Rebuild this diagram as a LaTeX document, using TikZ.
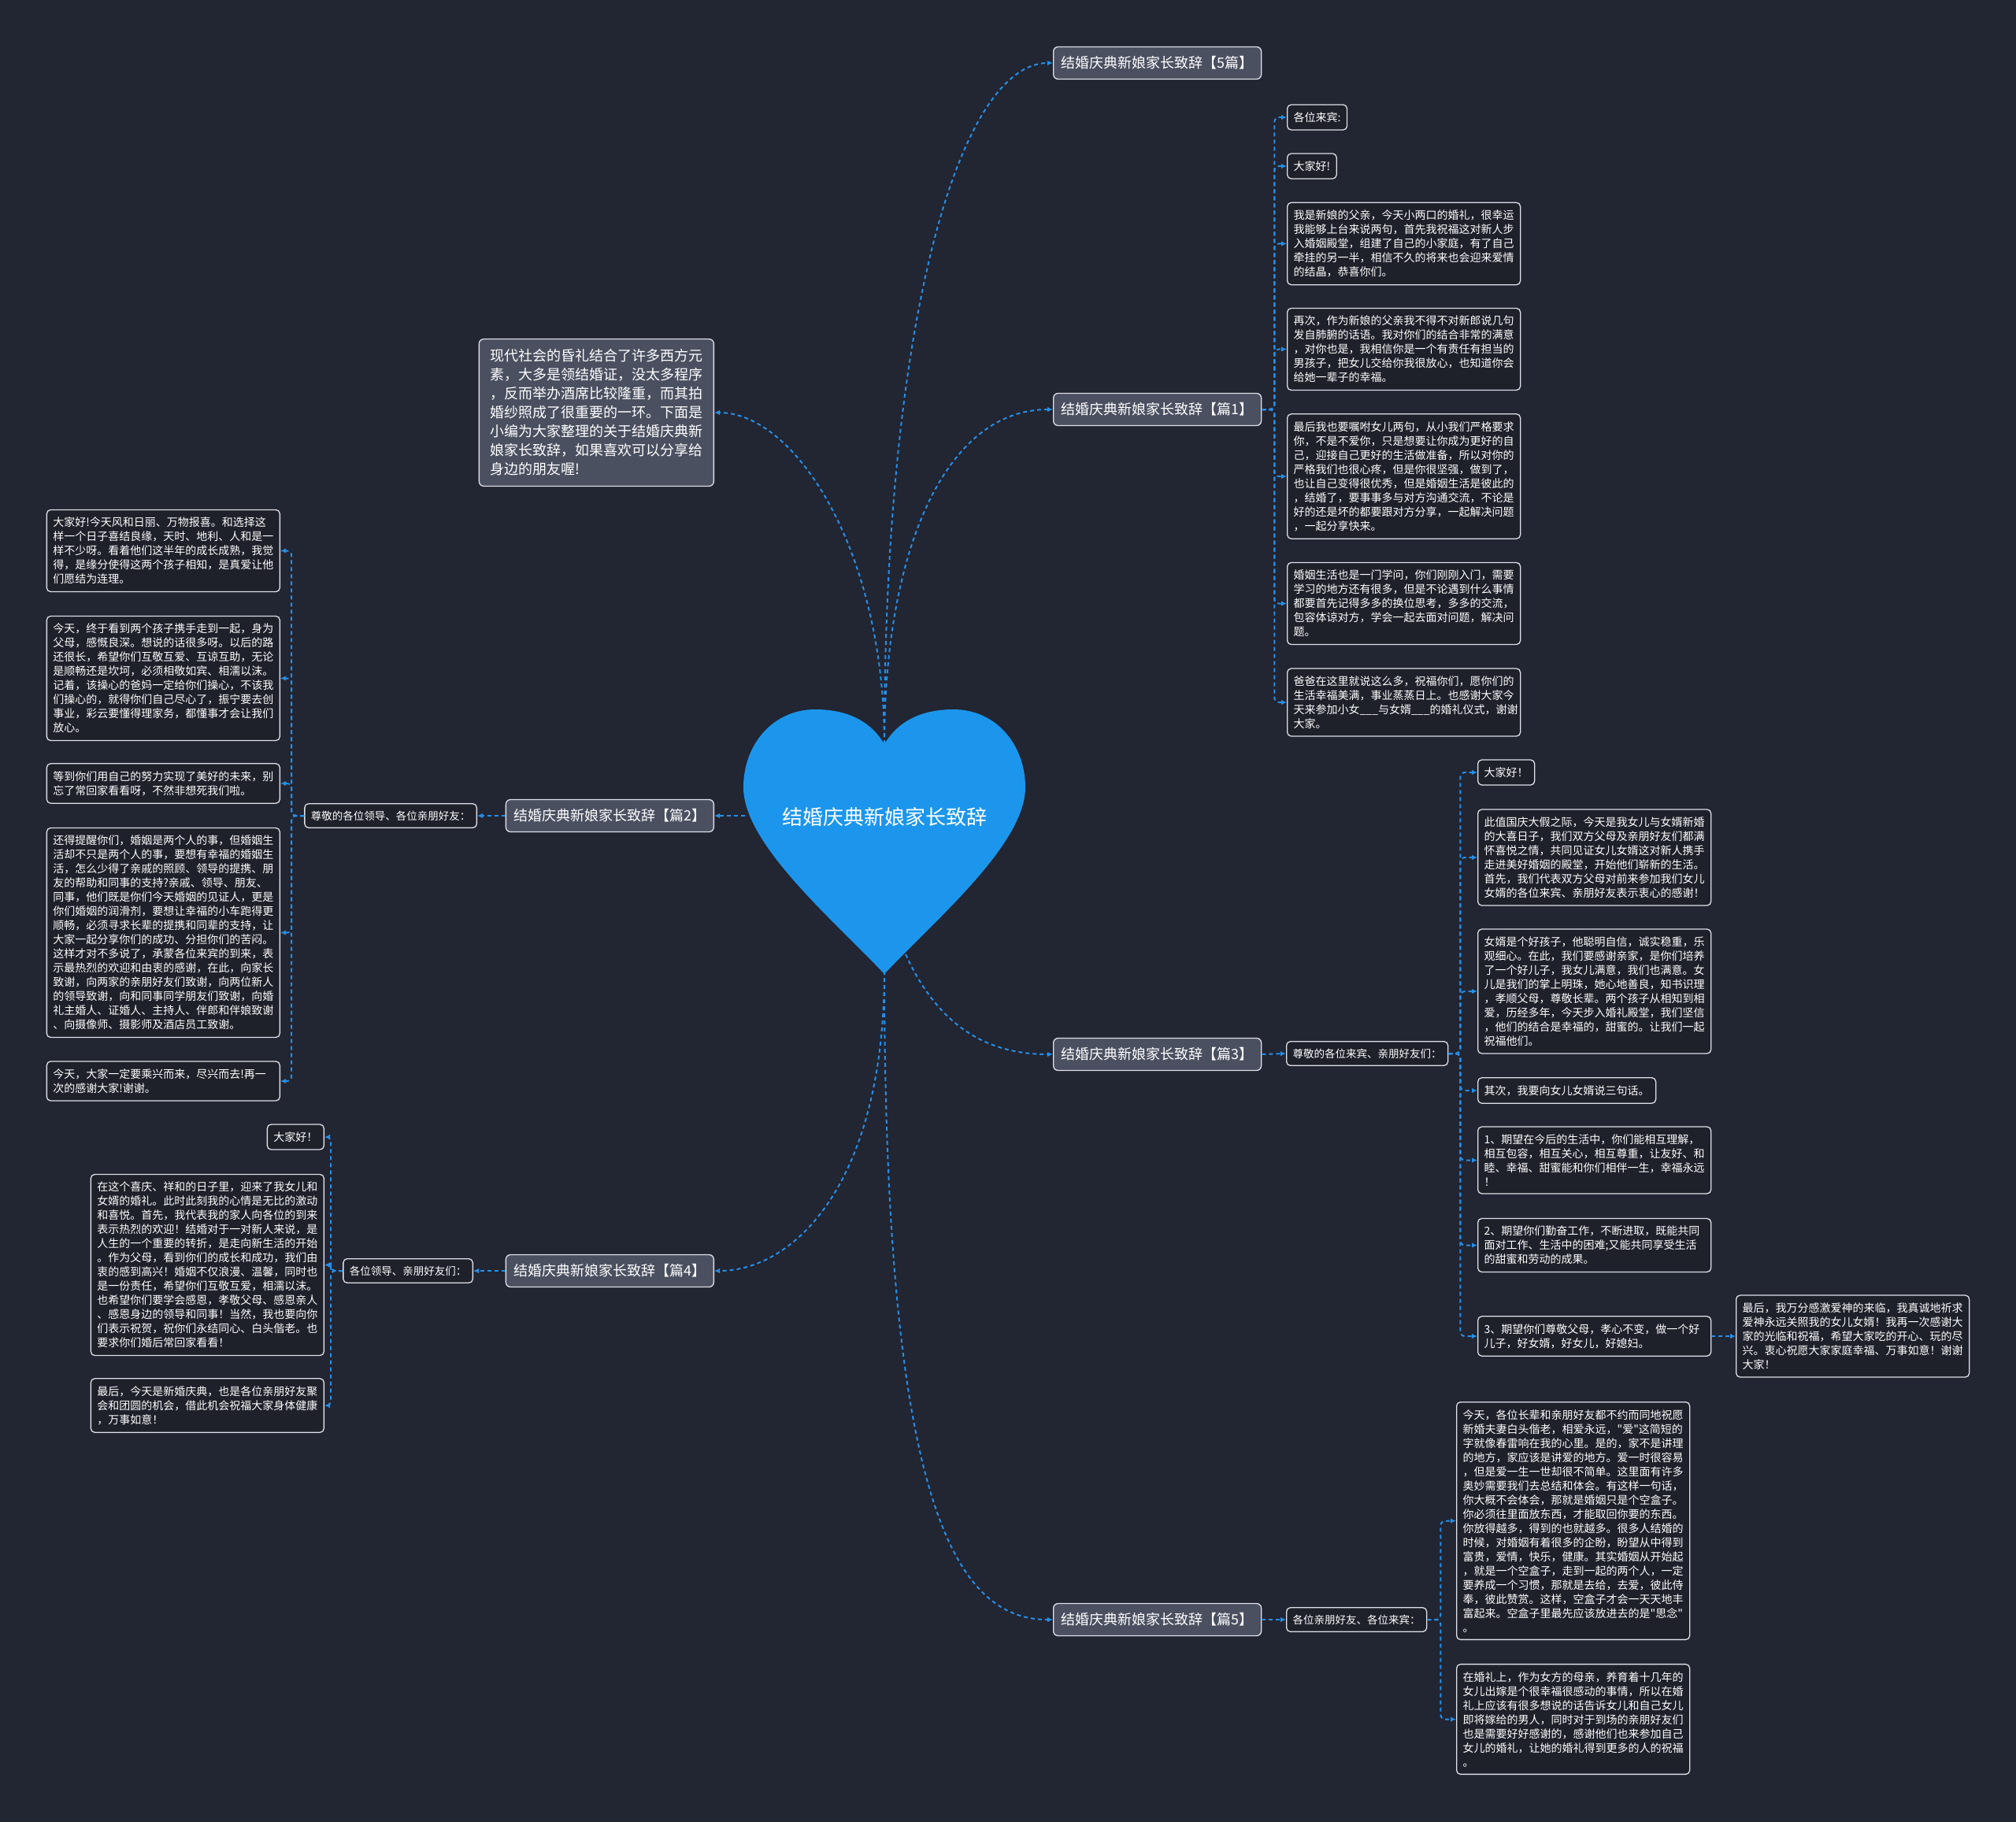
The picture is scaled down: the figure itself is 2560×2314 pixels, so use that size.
\documentclass[tikz,border=0pt]{standalone}
\usepackage{fontspec}
\setmainfont{Noto Sans CJK SC}
\newfontfamily\qf{Noto Sans CJK SC}
\usetikzlibrary{arrows.meta}
\definecolor{bgc}{RGB}{34,37,50}
\definecolor{leaffill}{RGB}{30,32,42}
\definecolor{branchfill}{RGB}{74,80,96}
\definecolor{boxline}{RGB}{222,225,232}
\definecolor{linkblue}{RGB}{38,143,230}
\definecolor{heartblue}{RGB}{27,150,236}
\newcommand{\dq}{{\qf "}}
\tikzset{
  leaf/.style={draw=boxline, fill=leaffill, rounded corners=5pt, line width=1.3pt, text=white,
    font=\fontsize{14}{18}\selectfont, align=left, inner xsep=8pt, inner ysep=9.5pt},
  wide/.style={leaf, text width=280pt},
  lvltwo/.style={leaf, font=\fontsize{13.5}{17}\selectfont, inner xsep=8pt, inner ysep=9pt},
  branch/.style={draw=boxline, fill=branchfill, rounded corners=6pt, line width=1.3pt, text=white,
    font=\fontsize{18}{24}\selectfont, inner xsep=10pt, inner ysep=4pt, minimum height=41pt},
  intro/.style={branch, align=left, inner xsep=14pt, inner ysep=13pt},
  conn/.style={draw=linkblue, line width=2pt, dash pattern=on 5pt off 4pt,
    -{Latex[length=7pt,width=6.5pt]}, rounded corners=8pt},
  tconn/.style={conn, rounded corners=6pt}
}
\begin{document}
\begin{tikzpicture}[x=1pt,y=-1pt]
\fill[bgc] (0,0) rectangle (2560,2314);
\useasboundingbox (0,0) rectangle (2560,2314);

% heart
\fill[heartblue] (1123,945) .. controls (1105,915) and (1075,901) .. (1035,901)
  .. controls (982,901) and (944,945) .. (944,1000)
  .. controls (944,1072) and (1058,1168) .. (1123,1237)
  .. controls (1188,1168) and (1302,1072) .. (1302,1000)
  .. controls (1302,945) and (1264,901) .. (1211,901)
  .. controls (1171,901) and (1141,915) .. (1123,945) -- cycle;
\node[text=white, font=\fontsize{26}{30}\selectfont] (heart) at (1123,1038) {结婚庆典新娘家长致辞};
\coordinate (htop) at (1123,945);
\coordinate (hbot) at (1123,1233);
\coordinate (hleft) at (946,1036);
\coordinate (hbr) at (1150,1212);

% branches
\node[branch, anchor=west] (p5) at (1337,80) {结婚庆典新娘家长致辞【5篇】};
\node[branch, anchor=west] (p1) at (1337,520) {结婚庆典新娘家长致辞【篇1】};
\node[branch, anchor=east] (p2) at (907,1036) {结婚庆典新娘家长致辞【篇2】};
\node[branch, anchor=west] (p3) at (1337,1339) {结婚庆典新娘家长致辞【篇3】};
\node[branch, anchor=east] (p4) at (907,1614) {结婚庆典新娘家长致辞【篇4】};
\node[branch, anchor=west] (p6) at (1337,2057) {结婚庆典新娘家长致辞【篇5】};
\node[intro, anchor=east] (intro) at (907,524) {现代社会的昏礼结合了许多西方元\\素，大多是领结婚证，没太多程序\\，反而举办酒席比较隆重，而其拍\\婚纱照成了很重要的一环。下面是\\小编为大家整理的关于结婚庆典新\\娘家长致辞，如果喜欢可以分享给\\身边的朋友喔!};

\draw[conn] (htop) .. controls (1123,400) and (1220,80) .. (p5.west);
\draw[conn] (htop) .. controls (1123,700) and (1200,520) .. (p1.west);
\draw[conn] (htop) .. controls (1123,700) and (1010,524) .. (intro.east);
\draw[conn] (hleft) -- (p2.east);
\draw[conn] (hbr) .. controls (1190,1300) and (1250,1339) .. (p3.west);
\draw[conn] (hbot) .. controls (1123,1500) and (1010,1614) .. (p4.east);
\draw[conn] (hbot) .. controls (1123,1900) and (1210,2057) .. (p6.west);

% pian 1 leaves
\node[leaf, anchor=west] (l1a) at (1634,149) {各位来宾:};
\node[leaf, anchor=west] (l1b) at (1634,211) {大家好!};
\node[wide, anchor=west] (l1c) at (1634,309.5) {我是新娘的父亲，今天小两口的婚礼，很幸运\\我能够上台来说两句，首先我祝福这对新人步\\入婚姻殿堂，组建了自己的小家庭，有了自己\\牵挂的另一半，相信不久的将来也会迎来爱情\\的结晶，恭喜你们。};
\node[wide, anchor=west] (l1d) at (1634,443.5) {再次，作为新娘的父亲我不得不对新郎说几句\\发自肺腑的话语。我对你们的结合非常的满意\\，对你也是，我相信你是一个有责任有担当的\\男孩子，把女儿交给你我很放心，也知道你会\\给她一辈子的幸福。};
\node[wide, anchor=west] (l1e) at (1634,605) {最后我也要嘱咐女儿两句，从小我们严格要求\\你，不是不爱你，只是想要让你成为更好的自\\己，迎接自己更好的生活做准备，所以对你的\\严格我们也很心疼，但是你很坚强，做到了，\\也让自己变得很优秀，但是婚姻生活是彼此的\\，结婚了，要事事多与对方沟通交流，不论是\\好的还是坏的都要跟对方分享，一起解决问题\\，一起分享快来。};
\node[wide, anchor=west] (l1f) at (1634,766.5) {婚姻生活也是一门学问，你们刚刚入门，需要\\学习的地方还有很多，但是不论遇到什么事情\\都要首先记得多多的换位思考，多多的交流，\\包容体谅对方，学会一起去面对问题，解决问\\题。};
\node[wide, anchor=west] (l1g) at (1634,892) {爸爸在这里就说这么多，祝福你们，愿你们的\\生活幸福美满，事业蒸蒸日上。也感谢大家今\\天来参加小女\_\_\_与女婿\_\_\_的婚礼仪式，谢谢\\大家。};
\foreach \n in {l1a,l1b,l1c,l1d,l1e,l1f,l1g}
  \draw[tconn] (p1.east) -- ++(16,0) |- (\n.west);

% pian 2
\node[lvltwo, anchor=east] (s2) at (606,1036) {尊敬的各位领导、各位亲朋好友：};
\draw[conn] (p2.west) -- (s2.east);
\node[wide, anchor=east] (l2a) at (356,699.5) {大家好!今天风和日丽、万物报喜。和选择这\\样一个日子喜结良缘，天时、地利、人和是一\\样不少呀。看着他们这半年的成长成熟，我觉\\得，是缘分使得这两个孩子相知，是真爱让他\\们愿结为连理。};
\node[wide, anchor=east] (l2b) at (356,861.5) {今天，终于看到两个孩子携手走到一起，身为\\父母，感慨良深。想说的话很多呀。以后的路\\还很长，希望你们互敬互爱、互谅互助，无论\\是顺畅还是坎坷，必须相敬如宾、相濡以沫。\\记着，该操心的爸妈一定给你们操心，不该我\\们操心的，就得你们自己尽心了，振宁要去创\\事业，彩云要懂得理家务，都懂事才会让我们\\放心。};
\node[wide, anchor=east] (l2c) at (356,995) {等到你们用自己的努力实现了美好的未来，别\\忘了常回家看看呀，不然非想死我们啦。};
\node[wide, anchor=east] (l2d) at (356,1184.5) {还得提醒你们，婚姻是两个人的事，但婚姻生\\活却不只是两个人的事，要想有幸福的婚姻生\\活，怎么少得了亲戚的照顾、领导的提携、朋\\友的帮助和同事的支持?亲戚、领导、朋友、\\同事，他们既是你们今天婚姻的见证人，更是\\你们婚姻的润滑剂，要想让幸福的小车跑得更\\顺畅，必须寻求长辈的提携和同辈的支持，让\\大家一起分享你们的成功、分担你们的苦闷。\\这样才对不多说了，承蒙各位来宾的到来，表\\示最热烈的欢迎和由衷的感谢，在此，向家长\\致谢，向两家的亲朋好友们致谢，向两位新人\\的领导致谢，向和同事同学朋友们致谢，向婚\\礼主婚人、证婚人、主持人、伴郎和伴娘致谢\\、向摄像师、摄影师及酒店员工致谢。};
\node[wide, anchor=east] (l2e) at (356,1373) {今天，大家一定要乘兴而来，尽兴而去!再一\\次的感谢大家!谢谢。};
\foreach \n in {l2a,l2b,l2c,l2d,l2e}
  \draw[tconn] (s2.west) -- ++(-16,0) |- (\n.east);

% pian 3
\node[lvltwo, anchor=west] (s3) at (1633,1338) {尊敬的各位来宾、亲朋好友们：};
\draw[conn] (p3.east) -- (s3.west);
\node[leaf, anchor=west] (l3a) at (1876,981) {大家好！};
\node[wide, anchor=west] (l3b) at (1876,1089) {此值国庆大假之际，今天是我女儿与女婿新婚\\的大喜日子，我们双方父母及亲朋好友们都满\\怀喜悦之情，共同见证女儿女婿这对新人携手\\走进美好婚姻的殿堂，开始他们崭新的生活。\\首先，我们代表双方父母对前来参加我们女儿\\女婿的各位来宾、亲朋好友表示衷心的感谢！};
\node[wide, anchor=west] (l3c) at (1876,1259) {女婿是个好孩子，他聪明自信，诚实稳重，乐\\观细心。在此，我们要感谢亲家，是你们培养\\了一个好儿子，我女儿满意，我们也满意。女\\儿是我们的掌上明珠，她心地善良，知书识理\\，孝顺父母，尊敬长辈。两个孩子从相知到相\\爱，历经多年，今天步入婚礼殿堂，我们坚信\\，他们的结合是幸福的，甜蜜的。让我们一起\\祝福他们。};
\node[leaf, anchor=west] (l3d) at (1876,1385) {其次，我要向女儿女婿说三句话。};
\node[wide, anchor=west] (l3e) at (1876,1473.5) {1、期望在今后的生活中，你们能相互理解，\\相互包容，相互关心，相互尊重，让友好、和\\睦、幸福、甜蜜能和你们相伴一生，幸福永远\\！};
\node[wide, anchor=west] (l3f) at (1876,1581.5) {2、期望你们勤奋工作，不断进取，既能共同\\面对工作、生活中的困难;又能共同享受生活\\的甜蜜和劳动的成果。};
\node[wide, anchor=west] (l3g) at (1876,1697) {3、期望你们尊敬父母，孝心不变，做一个好\\儿子，好女婿，好女儿，好媳妇。};
\node[wide, anchor=west] (l3h) at (2204,1697) {最后，我万分感激爱神的来临，我真诚地祈求\\爱神永远关照我的女儿女婿！我再一次感谢大\\家的光临和祝福，希望大家吃的开心、玩的尽\\兴。衷心祝愿大家家庭幸福、万事如意！谢谢\\大家！};
\foreach \n in {l3a,l3b,l3c,l3d,l3e,l3f,l3g}
  \draw[tconn] (s3.east) -- ++(15,0) |- (\n.west);
\draw[conn] (l3g.east) -- (l3h.west);

% pian 4
\node[lvltwo, anchor=east] (s4) at (601,1614) {各位领导、亲朋好友们：};
\draw[conn] (p4.west) -- (s4.east);
\node[leaf, anchor=east] (l4a) at (412,1444) {大家好！};
\node[wide, anchor=east] (l4b) at (412,1606.5) {在这个喜庆、祥和的日子里，迎来了我女儿和\\女婿的婚礼。此时此刻我的心情是无比的激动\\和喜悦。首先，我代表我的家人向各位的到来\\表示热烈的欢迎！结婚对于一对新人来说，是\\人生的一个重要的转折，是走向新生活的开始\\。作为父母，看到你们的成长和成功，我们由\\衷的感到高兴！婚姻不仅浪漫、温馨，同时也\\是一份责任，希望你们互敬互爱，相濡以沫。\\也希望你们要学会感恩，孝敬父母、感恩亲人\\、感恩身边的领导和同事！当然，我也要向你\\们表示祝贺，祝你们永结同心、白头偕老。也\\要求你们婚后常回家看看！};
\node[wide, anchor=east] (l4c) at (412,1785) {最后，今天是新婚庆典，也是各位亲朋好友聚\\会和团圆的机会，借此机会祝福大家身体健康\\，万事如意！};
\foreach \n in {l4a,l4b,l4c}
  \draw[tconn] (s4.west) -- ++(-15,0) |- (\n.east);

% pian 5
\node[lvltwo, anchor=west] (s5) at (1633,2057) {各位亲朋好友、各位来宾：};
\draw[conn] (p6.east) -- (s5.west);
\node[wide, anchor=west] (l5a) at (1849,1931.5) {今天，各位长辈和亲朋好友都不约而同地祝愿\\新婚夫妻白头偕老，相爱永远，\dq 爱\dq 这简短的\\字就像春雷响在我的心里。是的，家不是讲理\\的地方，家应该是讲爱的地方。爱一时很容易\\，但是爱一生一世却很不简单。这里面有许多\\奥妙需要我们去总结和体会。有这样一句话，\\你大概不会体会，那就是婚姻只是个空盒子。\\你必须往里面放东西，才能取回你要的东西。\\你放得越多，得到的也就越多。很多人结婚的\\时候，对婚姻有着很多的企盼，盼望从中得到\\富贵，爱情，快乐，健康。其实婚姻从开始起\\，就是一个空盒子，走到一起的两个人，一定\\要养成一个习惯，那就是去给，去爱，彼此侍\\奉，彼此赞赏。这样，空盒子才会一天天地丰\\富起来。空盒子里最先应该放进去的是\dq 思念\dq \\。};
\node[wide, anchor=west] (l5b) at (1849,2183.5) {在婚礼上，作为女方的母亲，养育着十几年的\\女儿出嫁是个很幸福很感动的事情，所以在婚\\礼上应该有很多想说的话告诉女儿和自己女儿\\即将嫁给的男人，同时对于到场的亲朋好友们\\也是需要好好感谢的，感谢他们也来参加自己\\女儿的婚礼，让她的婚礼得到更多的人的祝福\\。};
\foreach \n in {l5a,l5b}
  \draw[tconn] (s5.east) -- ++(17,0) |- (\n.west);
\end{tikzpicture}
\end{document}
